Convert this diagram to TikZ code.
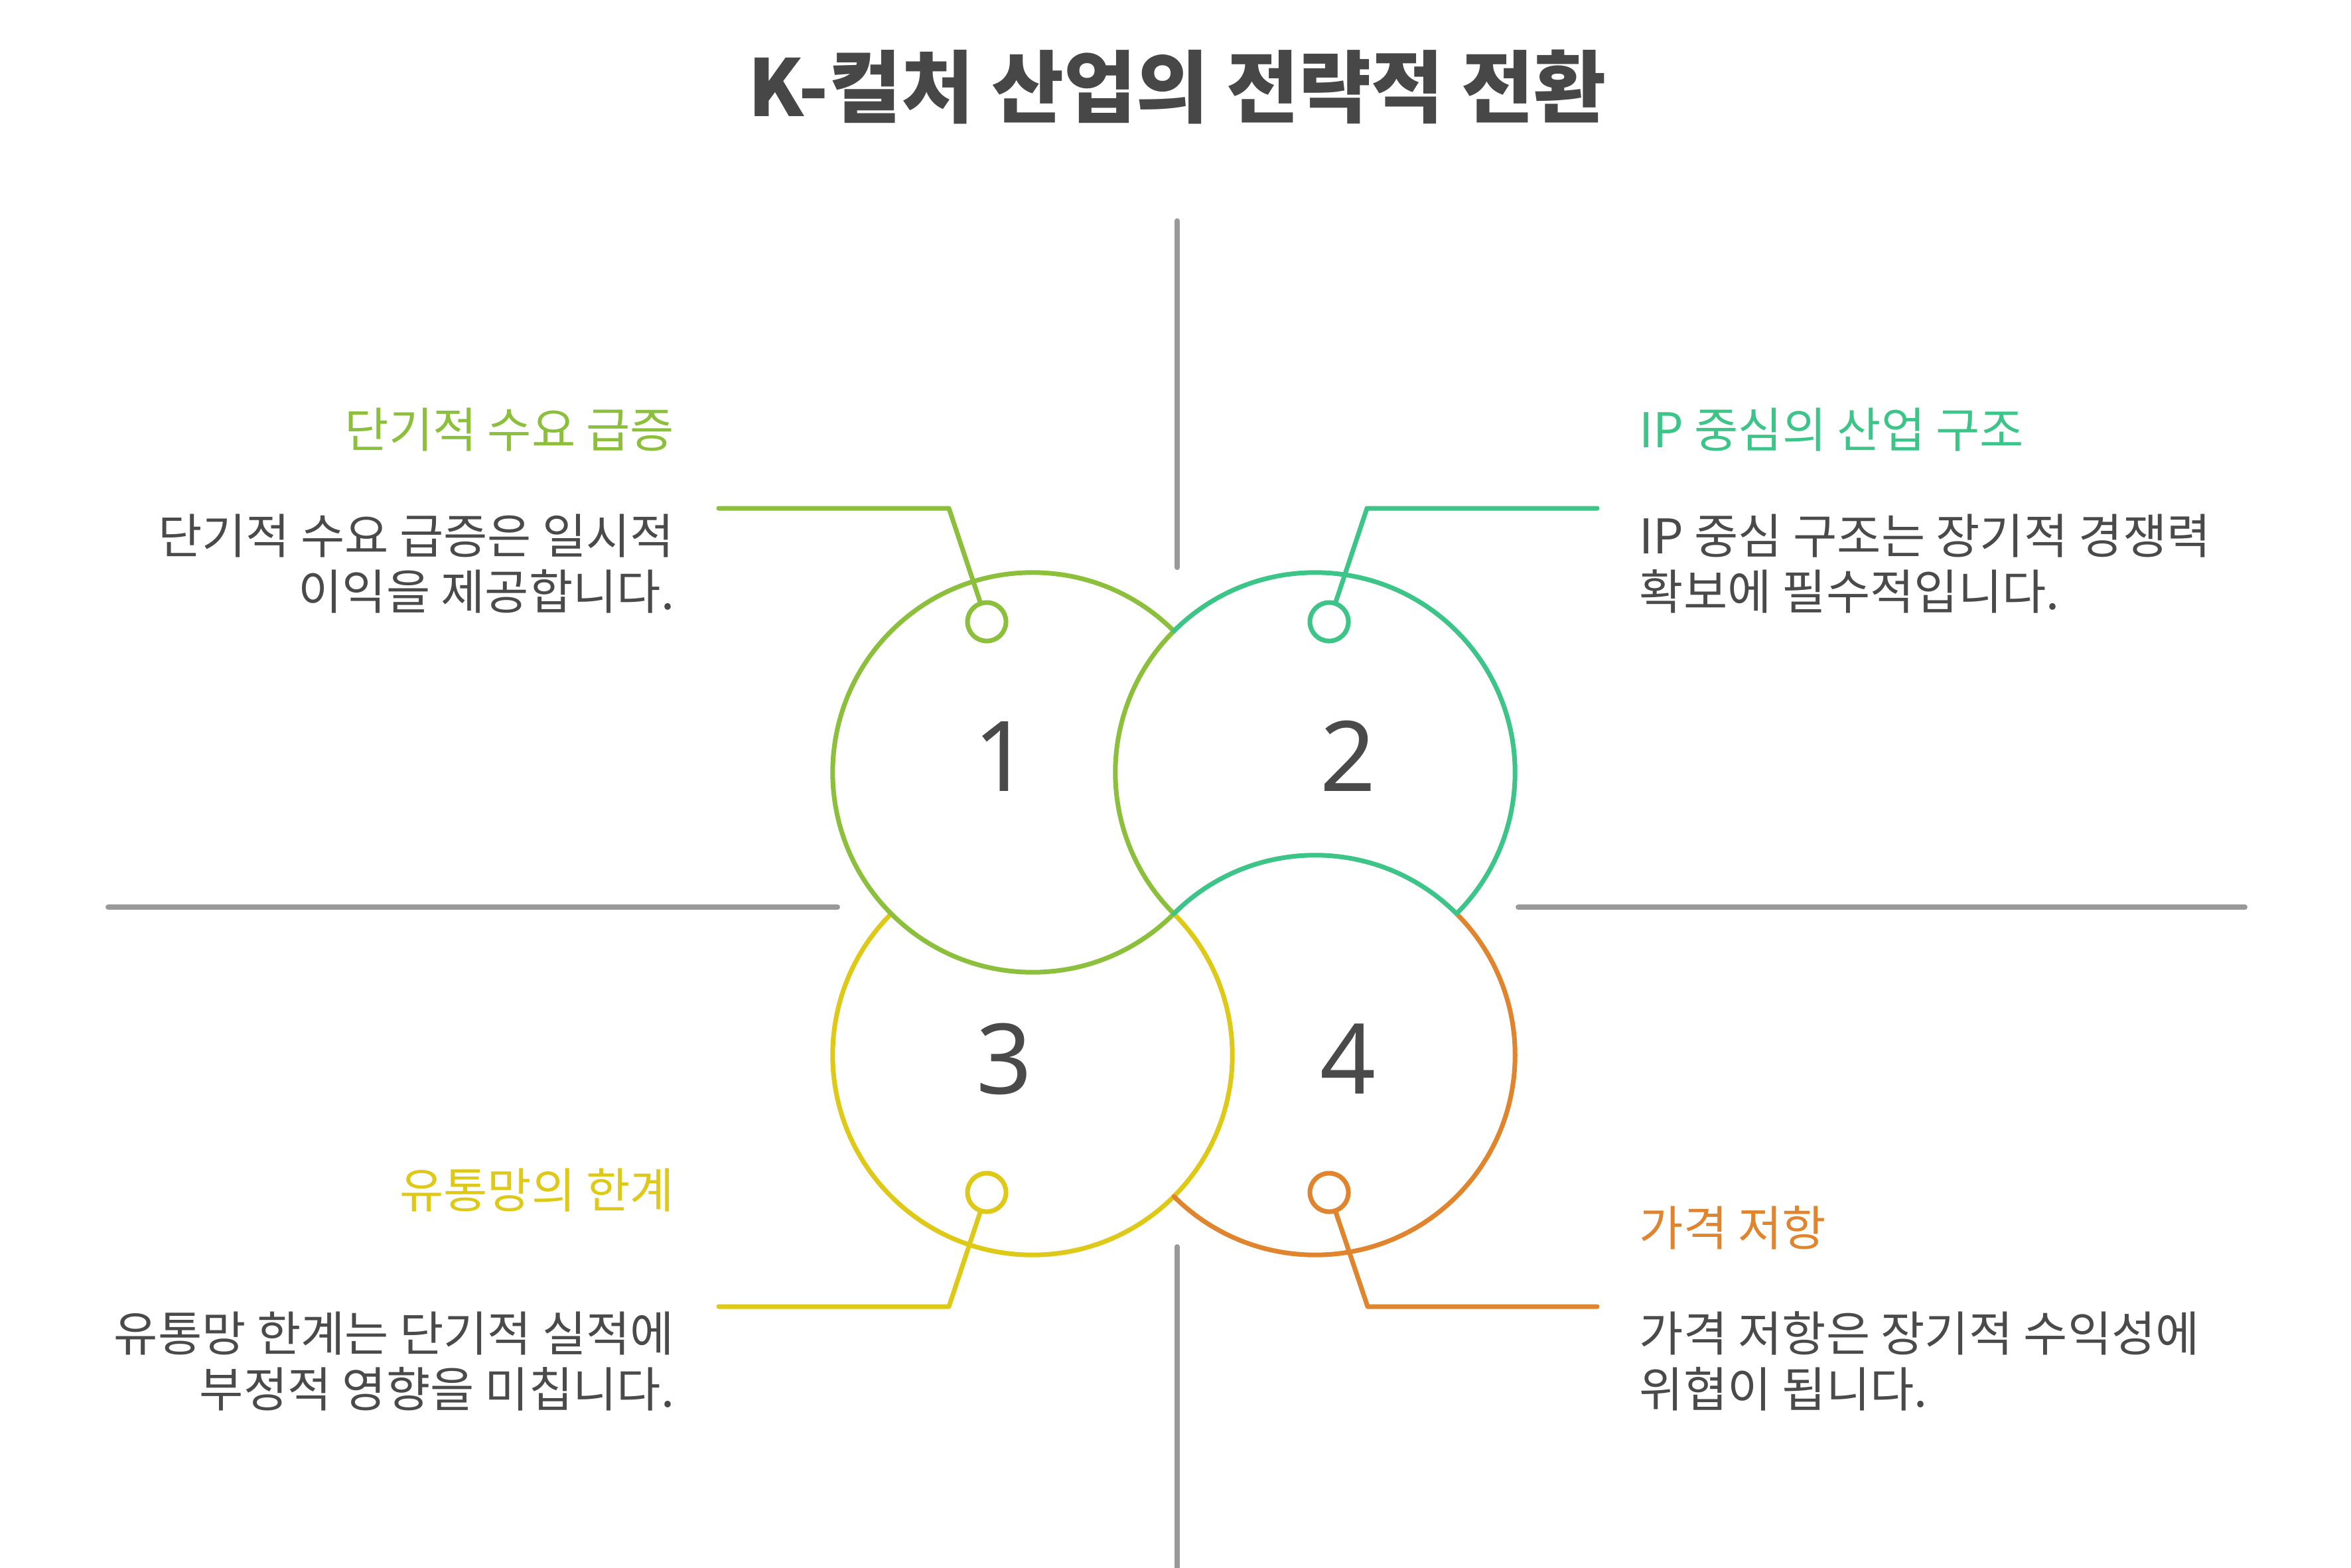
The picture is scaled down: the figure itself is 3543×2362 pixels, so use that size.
\documentclass[tikz,border=0pt]{standalone}
\usepackage{fontspec}
\setmainfont{Noto Sans CJK KR}
\newfontfamily\numfont{Noto Sans}
\definecolor{cgreen}{HTML}{8CBF3C}
\definecolor{cteal}{HTML}{3DC488}
\definecolor{cyellow}{HTML}{DEC918}
\definecolor{corange}{HTML}{E0842E}
\definecolor{divgray}{HTML}{999999}
\definecolor{txtgray}{HTML}{4A4A4A}
\definecolor{titlegray}{HTML}{474747}
\begin{document}
\begin{tikzpicture}[x=0.01cm,y=-0.01cm,
  arcline/.style={line width=0.07cm, line cap=round, line join=round},
  divider/.style={line width=0.08cm, draw=divgray, line cap=round},
  marker/.style={circle, draw, line width=0.07cm, fill=white, minimum size=0.58cm, inner sep=0pt},
  leader/.style={line width=0.07cm, line join=round, line cap=round},
  txt/.style={font=\fontsize{20.5pt}{24pt}\selectfont, inner sep=0pt},
  body/.style={txt, text=txtgray},
  num/.style={font=\numfont\fontsize{41.8pt}{50pt}\selectfont, text=txtgray, inner sep=0pt, anchor=base},
  titletxt/.style={font=\fontsize{33.7pt}{40pt}\selectfont\bfseries, text=titlegray, inner sep=0pt, anchor=base}
]
\fill[white] (0,0) rectangle (3543,2362);
\useasboundingbox (0,0) rectangle (3543,2362);

% title
\node[titletxt] (title) at (1774,175) {K-컬처 산업의 전략적 전환};

% dividers
\coordinate (vt1) at (1774,333);
\coordinate (vt2) at (1774,855);
\coordinate (vb1) at (1774,1879);
\coordinate (vb2) at (1774,2362);
\coordinate (hl1) at (163,1367);
\coordinate (hl2) at (1262,1367);
\coordinate (hr1) at (2288,1367);
\coordinate (hr2) at (3383,1367);
\draw[divider] (vt1) -- (vt2);
\draw[divider] (vb1) -- (vb2);
\draw[divider] (hl1) -- (hl2);
\draw[divider] (hr1) -- (hr2);

% key points of the four circles (radius 301.2, all through O)
\coordinate (O) at (1769,1377);
\coordinate (T) at (1769,951);
\coordinate (L) at (1343,1377);
\coordinate (R) at (2195,1377);
\coordinate (B) at (1769,1803);

\draw[arcline, draw=cyellow] (L) arc[start angle=225, end angle=-45, radius=301.2];
\draw[arcline, draw=corange] (R) arc[start angle=-45, end angle=135, radius=301.2];
\draw[arcline, draw=cgreen] (T) arc[start angle=-45, end angle=-315, radius=301.2]
                                arc[start angle=135, end angle=225, radius=301.2];
\draw[arcline, draw=cteal] (T) arc[start angle=-135, end angle=45, radius=301.2]
                               arc[start angle=-45, end angle=-135, radius=301.2];

% numbers
\node[num] (n1) at (1510,1192) {1};
\node[num] (n2) at (2032,1192) {2};
\node[num] (n3) at (1514,1648) {3};
\node[num] (n4) at (2032,1648) {4};

% markers and leaders
\node[marker, draw=cgreen] (m1) at (1487,937) {};
\node[marker, draw=cteal] (m2) at (2003,937) {};
\node[marker, draw=cyellow] (m3) at (1487,1797) {};
\node[marker, draw=corange] (m4) at (2003,1797) {};
\coordinate (b1) at (1430,766);
\coordinate (e1) at (1083,766);
\coordinate (b2) at (2060,766);
\coordinate (e2) at (2407,766);
\coordinate (b3) at (1430,1969);
\coordinate (e3) at (1083,1969);
\coordinate (b4) at (2061,1969);
\coordinate (e4) at (2407,1969);
\draw[leader, draw=cgreen] (m1) -- (b1) -- (e1);
\draw[leader, draw=cteal] (m2) -- (b2) -- (e2);
\draw[leader, draw=cyellow] (m3) -- (b3) -- (e3);
\draw[leader, draw=corange] (m4) -- (b4) -- (e4);

% texts top-left
\node[txt, text=cgreen, anchor=base east] (h1) at (1017,674) {단기적 수요 급증};
\node[body, anchor=base east] (t1a) at (1017,834) {단기적 수요 급증은 일시적};
\node[body, anchor=base east] (t1b) at (1017,918) {이익을 제공합니다.};
% top-right
\node[txt, text=cteal, anchor=base west] (h2) at (2470,674) {IP 중심의 산업 구조};
\node[body, anchor=base west] (t2a) at (2470,834) {IP 중심 구조는 장기적 경쟁력};
\node[body, anchor=base west] (t2b) at (2470,918) {확보에 필수적입니다.};
% bottom-left
\node[txt, text=cyellow, anchor=base east] (h3) at (1017,1820) {유통망의 한계};
\node[body, anchor=base east] (t3a) at (1017,2036) {유통망 한계는 단기적 실적에};
\node[body, anchor=base east] (t3b) at (1017,2120) {부정적 영향을 미칩니다.};
% bottom-right
\node[txt, text=corange, anchor=base west] (h4) at (2470,1877) {가격 저항};
\node[body, anchor=base west] (t4a) at (2470,2036) {가격 저항은 장기적 수익성에};
\node[body, anchor=base west] (t4b) at (2470,2120) {위협이 됩니다.};
\end{tikzpicture}
\end{document}
